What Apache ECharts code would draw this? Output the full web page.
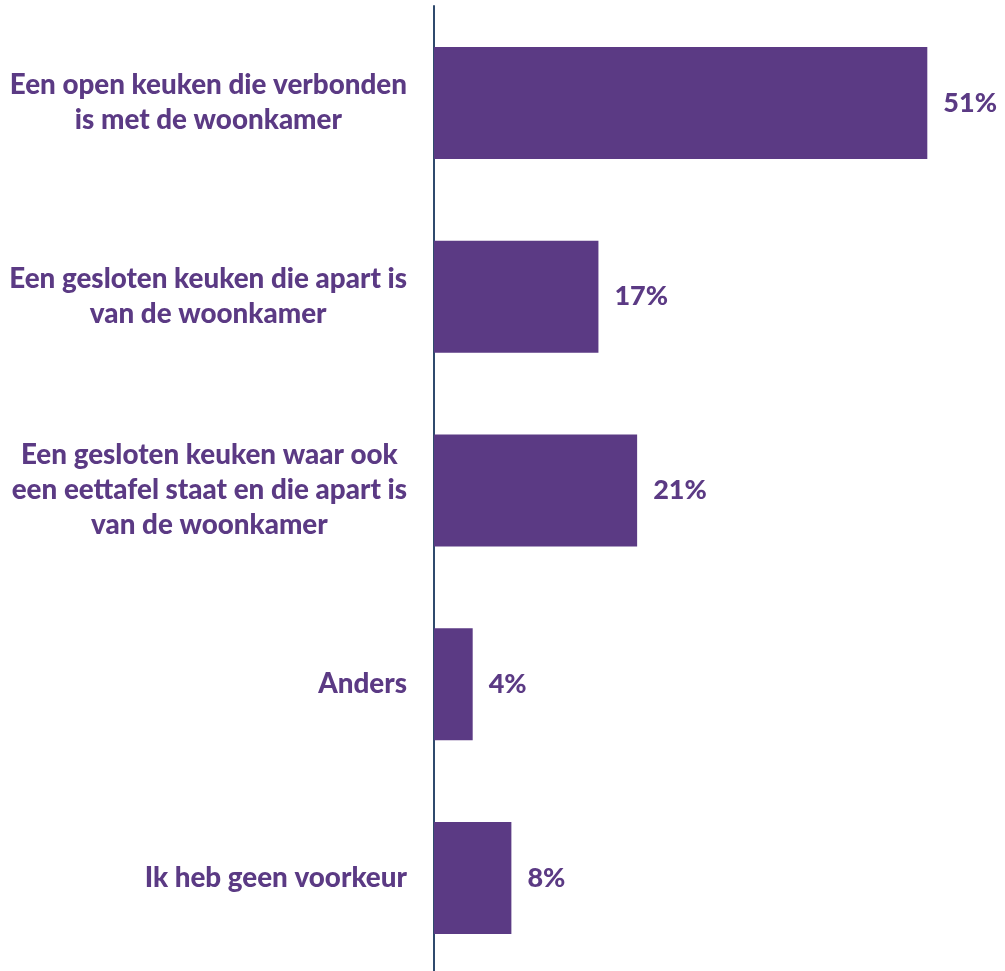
<!DOCTYPE html>
<html>
<head>
<meta charset="utf-8">
<script src="https://cdn.jsdelivr.net/npm/echarts@6/dist/echarts.min.js"></script>
<style>html,body{margin:0;padding:0;background:#fff;}#c{width:1005px;height:971px;}</style>
</head>
<body>
<div id="c"></div>
<script>
const categories = [
  "Een open keuken die verbonden\nis met de woonkamer",
  "Een gesloten keuken die apart is\nvan de woonkamer",
  "Een gesloten keuken waar ook\neen eettafel staat en die apart is\nvan de woonkamer",
  "Anders",
  "Ik heb geen voorkeur"
];
const values = [51, 17, 21, 4, 8];

const purple = '#5b3a84';
const chart = echarts.init(document.getElementById('c'));
chart.setOption({
  animation: false,
  grid: { left: 434, right: 39, top: 6, bottom: -4, containLabel: false, outerBoundsMode: 'none' },
  xAxis: { type: 'value', min: 0, max: 55, show: false },
  yAxis: {
    type: 'category', data: categories, inverse: true,
    axisLine: { show: true, lineStyle: { color: '#2f4a6d', width: 2 } },
    axisTick: { show: false },
    axisLabel: {
      margin: 27,
      color: purple,
      fontFamily: 'Lato',
      fontWeight: 900,
      fontSize: 27.8,
      lineHeight: 35,
      align: 'right',
      formatter: function (v) {
        return v.split('\n').map(function (l) { return '{c|' + l + '}'; }).join('\n');
      },
      rich: { c: { align: 'center', color: purple, fontFamily: 'Lato', fontWeight: 900, fontSize: 27.8, lineHeight: 35 } }
    }
  },
  series: [{
    type: 'bar', data: values, barWidth: 112,
    itemStyle: { color: purple },
    label: {
      show: true, position: 'right', distance: 16,
      formatter: '{c}%', color: purple,
      fontFamily: 'Lato', fontWeight: 900, fontSize: 27
    }
  }]
});
</script>
</body>
</html>
